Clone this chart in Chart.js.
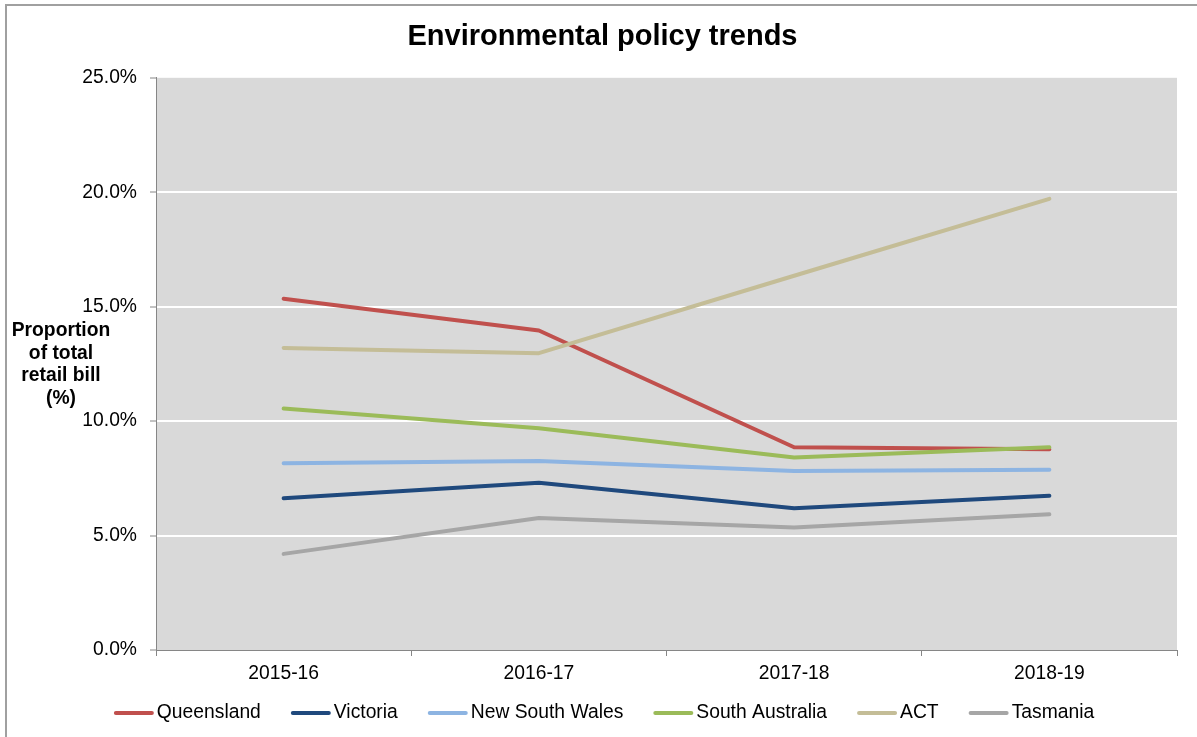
<!DOCTYPE html>
<html>
<head>
<meta charset="utf-8">
<title>Environmental policy trends</title>
<script src="https://cdn.jsdelivr.net/npm/chart.js@4/dist/chart.umd.min.js"></script>
<style>
  html, body { margin: 0; padding: 0; background: #ffffff; }
  #wrap { position: relative; width: 1197px; height: 737px; overflow: hidden; }
  #frame {
    position: absolute; left: 5px; top: 4px; width: 1200px; height: 800px;
    border-left: 2px solid #a0a0a0; border-top: 2px solid #a0a0a0;
    pointer-events: none;
  }
</style>
</head>
<body>
<div id="wrap">
  <canvas id="policyChart" width="1197" height="737"></canvas>
  <div id="frame"></div>
</div>
<script>
// --- Data ---
const categories = ['2015-16', '2016-17', '2017-18', '2018-19'];
const queensland = [15.35, 13.96, 8.86, 8.77];
const victoria = [6.63, 7.31, 6.19, 6.74];
const newSouthWales = [8.16, 8.26, 7.82, 7.87];
const southAustralia = [10.55, 9.69, 8.41, 8.86];
const act = [13.2, 12.97, 16.35, 19.71];
const tasmania = [4.2, 5.77, 5.35, 5.93];
const yTicks = [0, 5, 10, 15, 20, 25];

const seriesNames = ['Queensland', 'Victoria', 'New South Wales', 'South Australia', 'ACT', 'Tasmania'];
const seriesData = [queensland, victoria, newSouthWales, southAustralia, act, tasmania];
const seriesColors = ['#c0504d', '#1f497d', '#8db4e2', '#9bbb59', '#c4bd97', '#a6a6a6'];

const FONT = '"Liberation Sans", Arial, sans-serif';
const TEXT_SIZE = 19.3;
Chart.defaults.font.family = FONT;
Chart.defaults.color = '#000000';

// grey plot background
const plotBackground = {
    id: 'plotBackground',
    beforeDraw(chart) {
        const { ctx, chartArea: a } = chart;
        ctx.save();
        ctx.fillStyle = '#d9d9d9';
        ctx.fillRect(a.left, a.top, a.right - a.left, a.bottom - a.top);
        ctx.restore();
    }
};

// horizontal, multi-line y axis title like the original
const yTitle = {
    id: 'yTitle',
    afterDraw(chart) {
        const { ctx, chartArea: a } = chart;
        const lines = ['Proportion', 'of total', 'retail bill', '(%)'];
        const lh = 22.5;
        const mid = (a.top + a.bottom) / 2 + 1;
        ctx.save();
        ctx.font = 'bold ' + TEXT_SIZE + 'px ' + FONT;
        ctx.fillStyle = '#000000';
        ctx.textAlign = 'center';
        ctx.textBaseline = 'middle';
        lines.forEach((t, i) => {
            ctx.fillText(t, 61, mid + (i - (lines.length - 1) / 2) * lh);
        });
        ctx.restore();
    }
};

// legend drawn below the axis, lines close to their labels
const lineLegend = {
    id: 'lineLegend',
    afterDraw(chart) {
        const { ctx } = chart;
        const lineLen = 40, textGap = 3, itemGap = 30, y = 713;
        ctx.save();
        ctx.font = TEXT_SIZE + 'px ' + FONT;
        const items = chart.data.datasets.map(ds => ({
            label: ds.label, color: ds.borderColor, w: ctx.measureText(ds.label).width
        }));
        const total = items.reduce((s, it) => s + lineLen + textGap + it.w, 0) + itemGap * (items.length - 1);
        let x = 604 - total / 2;
        items.forEach(it => {
            ctx.strokeStyle = it.color;
            ctx.lineWidth = 4;
            ctx.lineCap = 'round';
            ctx.beginPath();
            ctx.moveTo(x + 2, y);
            ctx.lineTo(x + lineLen - 2, y);
            ctx.stroke();
            ctx.fillStyle = '#000000';
            ctx.textAlign = 'left';
            ctx.textBaseline = 'middle';
            ctx.fillText(it.label, x + lineLen + textGap, y);
            x += lineLen + textGap + it.w + itemGap;
        });
        ctx.restore();
    }
};

const ctx = document.getElementById('policyChart').getContext('2d');

new Chart(ctx, {
    type: 'line',
    data: {
        labels: categories,
        datasets: seriesNames.map((name, i) => ({
            label: name,
            data: seriesData[i],
            borderColor: seriesColors[i],
            backgroundColor: seriesColors[i],
            borderWidth: 4,
            borderCapStyle: 'round',
            borderJoinStyle: 'round',
            pointRadius: 0,
            tension: 0,
            order: seriesNames.length - i   // later series on top, as in Excel
        }))
    },
    options: {
        responsive: false,
        animation: false,
        events: [],
        layout: { padding: { left: 28, right: 20, top: 0, bottom: 47 } },
        plugins: {
            legend: { display: false },
            tooltip: { enabled: false },
            title: {
                display: true,
                text: 'Environmental policy trends',
                font: { size: 29, weight: 'bold', family: FONT },
                color: '#000000',
                padding: { top: 20, bottom: 23 }
            }
        },
        scales: {
            x: {
                offset: true,
                grid: {
                    offset: true,
                    drawOnChartArea: false,
                    drawTicks: true,
                    tickLength: 6,
                    tickColor: '#868686',
                    tickWidth: 1
                },
                border: { color: '#868686', width: 1 },
                ticks: { font: { size: TEXT_SIZE }, color: '#000000', padding: 6, maxRotation: 0 },
                afterFit(scale) { scale.height = 40; }
            },
            y: {
                min: 0,
                max: 25,
                afterBuildTicks(scale) { scale.ticks = yTicks.map(v => ({ value: v })); },
                grid: {
                    color: c => (c.tick && (c.tick.value === 0 || c.tick.value === 25)) ? 'rgba(0,0,0,0)' : '#ffffff',
                    lineWidth: 2,
                    drawTicks: true,
                    tickLength: 6,
                    tickColor: '#868686',
                    tickWidth: 1
                },
                border: { color: '#868686', width: 1 },
                ticks: {
                    font: { size: TEXT_SIZE },
                    color: '#000000',
                    padding: 13,
                    callback: v => v.toFixed(1) + '%'
                },
                afterFit(scale) { scale.width = 128; }
            }
        }
    },
    plugins: [plotBackground, yTitle, lineLegend]
});
</script>
</body>
</html>
